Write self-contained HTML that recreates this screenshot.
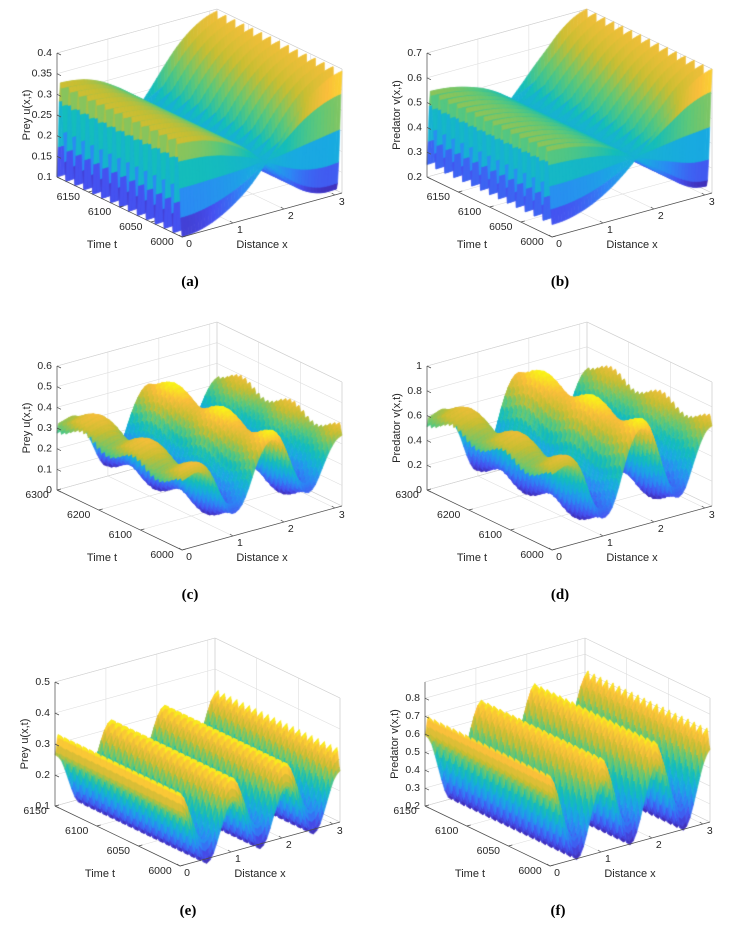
<!DOCTYPE html>
<html><head><meta charset="utf-8"><style>
body{margin:0;background:#fff;width:742px;height:930px;overflow:hidden;position:relative}
svg,canvas{position:absolute;left:0;top:0}
</style></head><body>
<svg id="back" width="742" height="930"></svg>
<canvas id="surf" width="742" height="930"></canvas>
<svg id="front" width="742" height="930"></svg>
<script>
// ---- data (x profiles sampled uniformly on [0, pi]) ----
const meanA=[0.215,0.215,0.216,0.217,0.218,0.22,0.223,0.226,0.23,0.235,0.24,0.245,0.25];
const ampA=[0.115,0.112,0.104,0.09,0.07,0.045,0.012,-0.025,-0.065,-0.1,-0.125,-0.14,-0.145];
const meanB=[0.40,0.40,0.402,0.405,0.41,0.415,0.42,0.428,0.435,0.443,0.45,0.455,0.46];
const ampB=[0.15,0.146,0.135,0.117,0.092,0.058,0.015,-0.035,-0.09,-0.14,-0.19,-0.225,-0.24];
const meanC=[0.33,0.34,0.35,0.34,0.31,0.25,0.17,0.11,0.10,0.13,0.20,0.29,0.36,0.40,0.40,0.36,0.28,0.19,0.12,0.10,0.13,0.20,0.27,0.32,0.34];
const ampC=[0.025,0.022,0.02,0.02,0.02,0.02,0.02,0.02,0.02,0.02,0.022,0.025,0.028];
const slowC=[0.03,0.03,0.03,0.03,0.03,0.03,0.03,0.03,0.03,0.03,0.03,0.03,0.03];
const meanD=[0.60,0.62,0.64,0.62,0.56,0.44,0.27,0.15,0.13,0.19,0.34,0.53,0.68,0.76,0.76,0.68,0.51,0.32,0.17,0.13,0.19,0.34,0.49,0.60,0.64];
const ampD=[0.04,0.036,0.033,0.033,0.033,0.033,0.033,0.033,0.033,0.034,0.036,0.04,0.044];
const slowD=[0.05,0.05,0.05,0.05,0.05,0.05,0.05,0.05,0.05,0.05,0.05,0.05,0.05];
const meanE=[0.30,0.274,0.21,0.146,0.12,0.146,0.21,0.274,0.30,0.274,0.21,0.146,0.12,0.146,0.21,0.274,0.30,0.274,0.21,0.146,0.12,0.146,0.21,0.274,0.30];
const ampE=[0.035,0.035,0.035,0.035,0.035,0.035,0.035,0.035,0.035,0.035,0.035,0.035,0.035];
const meanF=[0.65,0.59,0.45,0.31,0.25,0.31,0.45,0.59,0.66,0.59,0.45,0.31,0.25,0.31,0.45,0.59,0.67,0.59,0.45,0.31,0.25,0.31,0.45,0.59,0.66];
const ampF=[0.055,0.055,0.055,0.055,0.055,0.055,0.055,0.055,0.055,0.055,0.055,0.055,0.055];
const zeroSlow=[0,0,0,0,0,0,0,0,0,0,0,0,0];
const sawWave=[-1,-0.75,-0.35,0.1,0.5,0.8,0.97,1,0.75,0.1,-0.6];
const roundWave=[-1,-0.7,0,0.7,1,0.7,0,-0.7];
const slowWave=[1,0.5,-0.5,-1,-0.5,0.5];
const zTicksA=[0.1,0.15,0.2,0.25,0.3,0.35,0.4];
const zLabelsA=["0.1","0.15","0.2","0.25","0.3","0.35","0.4"];
const zTicksB=[0.2,0.3,0.4,0.5,0.6,0.7];
const zLabelsB=["0.2","0.3","0.4","0.5","0.6","0.7"];
const zTicksC=[0,0.1,0.2,0.3,0.4,0.5,0.6];
const zLabelsC=["0","0.1","0.2","0.3","0.4","0.5","0.6"];
const zTicksD=[0,0.2,0.4,0.6,0.8,1];
const zLabelsD=["0","0.2","0.4","0.6","0.8","1"];
const zTicksE=[0.1,0.2,0.3,0.4,0.5];
const zLabelsE=["0.1","0.2","0.3","0.4","0.5"];
const zTicksF=[0.2,0.3,0.4,0.5,0.6,0.7,0.8];
const zLabelsF=["0.2","0.3","0.4","0.5","0.6","0.7","0.8"];
const tTicks1=[6000,6050,6100,6150];
const tTicks2=[6000,6100,6200,6300];
const tTicks3=[6000,6050,6100,6150];
const xTicks=[0,1,2,3];

const X=[160,-44],T=[-125,-60],ZH=124;
const panels=[
 {id:"a",ox:182,oy:237,mean:meanA,amp:ampA,wave:sawWave,fp:14,slow:zeroSlow,sp:1,z0:0.1,z1:0.4,zt:zTicksA,zl:zLabelsA,t0:6000,t1:6200,tt:tTicks1,zName:"Prey u(x,t)"},
 {id:"b",ox:552,oy:237,mean:meanB,amp:ampB,wave:sawWave,fp:14,slow:zeroSlow,sp:1,z0:0.2,z1:0.7,zt:zTicksB,zl:zLabelsB,t0:6000,t1:6200,tt:tTicks1,zName:"Predator v(x,t)"},
 {id:"c",ox:182,oy:550,mean:meanC,amp:ampC,wave:sawWave,fp:28,slow:slowC,sp:2.5,z0:0,z1:0.6,zt:zTicksC,zl:zLabelsC,t0:6000,t1:6300,tt:tTicks2,zName:"Prey u(x,t)"},
 {id:"d",ox:552,oy:550,mean:meanD,amp:ampD,wave:sawWave,fp:28,slow:slowD,sp:2.5,z0:0,z1:1,zt:zTicksD,zl:zLabelsD,t0:6000,t1:6300,tt:tTicks2,zName:"Predator v(x,t)"},
 {id:"e",ox:180,oy:866,mean:meanE,amp:ampE,wave:roundWave,fp:20,slow:zeroSlow,sp:1,z0:0.1,z1:0.5,zt:zTicksE,zl:zLabelsE,t0:6000,t1:6150,tt:tTicks3,zName:"Prey u(x,t)"},
 {id:"f",ox:550,oy:866,mean:meanF,amp:ampF,wave:roundWave,fp:20,slow:zeroSlow,sp:1,z0:0.2,z1:0.89,zt:zTicksF,zl:zLabelsF,t0:6000,t1:6150,tt:tTicks3,zName:"Predator v(x,t)"}
];

function cr(p0,p1,p2,p3,u){return 0.5*((2*p1)+(-p0+p2)*u+(2*p0-5*p1+4*p2-p3)*u*u+(-p0+3*p1-3*p2+p3)*u*u*u);}
function interp(a,f){const n=a.length-1;let s=f*n;let i=Math.floor(s);if(i>=n)i=n-1;if(i<0)i=0;const u=s-i;
 return cr(a[Math.max(i-1,0)],a[i],a[i+1],a[Math.min(i+2,n)],u);}
function periodic(a,ph){const m=a.length;let s=((ph%1)+1)%1*m;const i=Math.floor(s);const u=s-i;
 return cr(a[(i-1+m)%m],a[i%m],a[(i+1)%m],a[(i+2)%m],u);}
const stops=[[0,[62,38,168]],[0.12,[70,80,240]],[0.25,[45,135,245]],[0.37,[25,170,225]],[0.5,[20,190,185]],[0.62,[95,200,120]],[0.75,[200,190,50]],[0.87,[250,190,60]],[1,[249,251,20]]];
function parula(v){v=Math.max(0,Math.min(1,v));for(let i=1;i<stops.length;i++){if(v<=stops[i][0]){const a=stops[i-1],b=stops[i];const u=(v-a[0])/(b[0]-a[0]);
 return 'rgb('+[0,1,2].map(k=>Math.round(a[1][k]+(b[1][k]-a[1][k])*u)).join(',')+')';}}return 'rgb(249,251,20)';}

function P(p,xn,tn,zn){return [p.ox+xn*X[0]+tn*T[0],p.oy+xn*X[1]+tn*T[1]-zn*ZH];}
const NS="http://www.w3.org/2000/svg";
const back=document.getElementById('back'),front=document.getElementById('front');
function line(svg,a,b,col,w,name){const l=document.createElementNS(NS,'line');
 l.setAttribute('x1',a[0]);l.setAttribute('y1',a[1]);l.setAttribute('x2',b[0]);l.setAttribute('y2',b[1]);
 l.setAttribute('stroke',col);l.setAttribute('stroke-width',w);
 
 
 svg.appendChild(l);return l;}
function text(x,y,str,anchor,size,name,extra){const t=document.createElementNS(NS,'text');
 t.setAttribute('x',x);t.setAttribute('y',y);t.setAttribute('text-anchor',anchor);t.setAttribute('dominant-baseline','central');
 t.setAttribute('font-family','"Liberation Sans", Arial, sans-serif');t.setAttribute('font-size',size);t.setAttribute('fill','#262626');
 if(extra)extra(t);t.textContent=str;
 
 
 front.appendChild(t);return t;}

const ctx=document.getElementById('surf').getContext('2d');
panels.forEach(p=>{
 const tn=t=>(t-p.t0)/(p.t1-p.t0), zn=z=>(z-p.z0)/(p.z1-p.z0);
 const G='#dedede';
 xTicks.forEach(x=>{const f=x/Math.PI;
  line(back,P(p,f,0,0),P(p,f,1,0),G,0.6,'floor-grid-x');
  line(back,P(p,f,1,0),P(p,f,1,1),G,0.6,'back-grid-x');});
 p.tt.forEach(t=>{const f=tn(t);
  line(back,P(p,0,f,0),P(p,1,f,0),G,0.6,'floor-grid-t');
  line(back,P(p,1,f,0),P(p,1,f,1),G,0.6,'side-grid-t');});
 p.zt.forEach(z=>{const f=zn(z);
  line(back,P(p,0,1,f),P(p,1,1,f),G,0.6,'back-grid-z');
  line(back,P(p,1,1,f),P(p,1,0,f),G,0.6,'side-grid-z');});
 [[[0,1,1],[1,1,1]],[[1,1,1],[1,0,1]],[[1,1,0],[1,1,1]],[[1,0,0],[1,0,1]],[[1,0,0],[1,1,0]],[[0,1,0],[1,1,0]]].forEach(e=>
  line(back,P(p,...e[0]),P(p,...e[1]),'#cfcfcf',0.6,'box-edge'));
 const nx=48,nt=Math.round(p.fp*8);
 const Z=[];let mn=1e9,mx=-1e9;
 for(let i=0;i<=nx;i++){Z.push([]);const xf=i/nx;const m=interp(p.mean,xf),a=interp(p.amp,xf),s=interp(p.slow,xf);
  for(let j=0;j<=nt;j++){const tf=j/nt;const v=m+a*periodic(p.wave,tf*p.fp)+s*periodic(slowWave,tf*p.sp);Z[i].push(v);if(v<mn)mn=v;if(v>mx)mx=v;}}
 const quads=[];
 for(let i=0;i<nx;i++)for(let j=0;j<nt;j++){quads.push([i/nx+j/nt,i,j]);}
 quads.sort((a,b)=>b[0]-a[0]);
 quads.forEach(q=>{const i=q[1],j=q[2];
  const c=[[i,j],[i+1,j],[i+1,j+1],[i,j+1]];
  const avg=(Z[i][j]+Z[i+1][j]+Z[i+1][j+1]+Z[i][j+1])/4;
  const col=parula((avg-mn)/(mx-mn));
  ctx.beginPath();
  c.forEach((k,n)=>{const pt=P(p,k[0]/nx,k[1]/nt,zn(Z[k[0]][k[1]]));if(n)ctx.lineTo(pt[0],pt[1]);else ctx.moveTo(pt[0],pt[1]);});
  ctx.closePath();ctx.fillStyle=col;ctx.strokeStyle=col;ctx.lineWidth=0.7;ctx.fill();ctx.stroke();});
 const A='#4d4d4d';
 line(front,P(p,0,1,0),P(p,0,1,1),A,0.7,'z-axis');
 line(front,P(p,0,0,0),P(p,0,1,0),A,0.7,'t-axis');
 line(front,P(p,0,0,0),P(p,1,0,0),A,0.7,'x-axis');
 p.zt.forEach((z,k)=>{const pt=P(p,0,1,zn(z));line(front,pt,[pt[0]+4,pt[1]+2],A,0.7,'z-tick');
  text(pt[0]-5,pt[1],p.zl[k],'end',10.5,'z-tick-label');});
 p.tt.forEach(t=>{const pt=P(p,0,tn(t),0);line(front,pt,[pt[0]+4,pt[1]-1],A,0.7,'t-tick');
  text(pt[0]-20,pt[1]+5,String(t),'middle',10.5,'t-tick-label');});
 xTicks.forEach(x=>{const pt=P(p,x/Math.PI,0,0);line(front,pt,[pt[0]-3,pt[1]-2],A,0.7,'x-tick');
  text(pt[0]+7,pt[1]+7,String(x),'middle',10.5,'x-tick-label');});
 text(p.ox-80,p.oy+8,'Time t','middle',11,'t-axis-title');
 text(p.ox+80,p.oy+8,'Distance x','middle',11,'x-axis-title');
 const zx=p.ox-155,zy=p.oy-122;
 text(zx,zy,p.zName,'middle',11,'z-axis-title',t=>t.setAttribute('transform','rotate(-90 '+zx+' '+zy+')'));
 text(p.ox+8,p.oy+45,'('+p.id+')','middle',15,'panel-caption',t=>{t.setAttribute('font-family','"Liberation Serif", serif');t.setAttribute('font-weight','bold');t.setAttribute('fill','#000');});
});
</script>
</body></html>
